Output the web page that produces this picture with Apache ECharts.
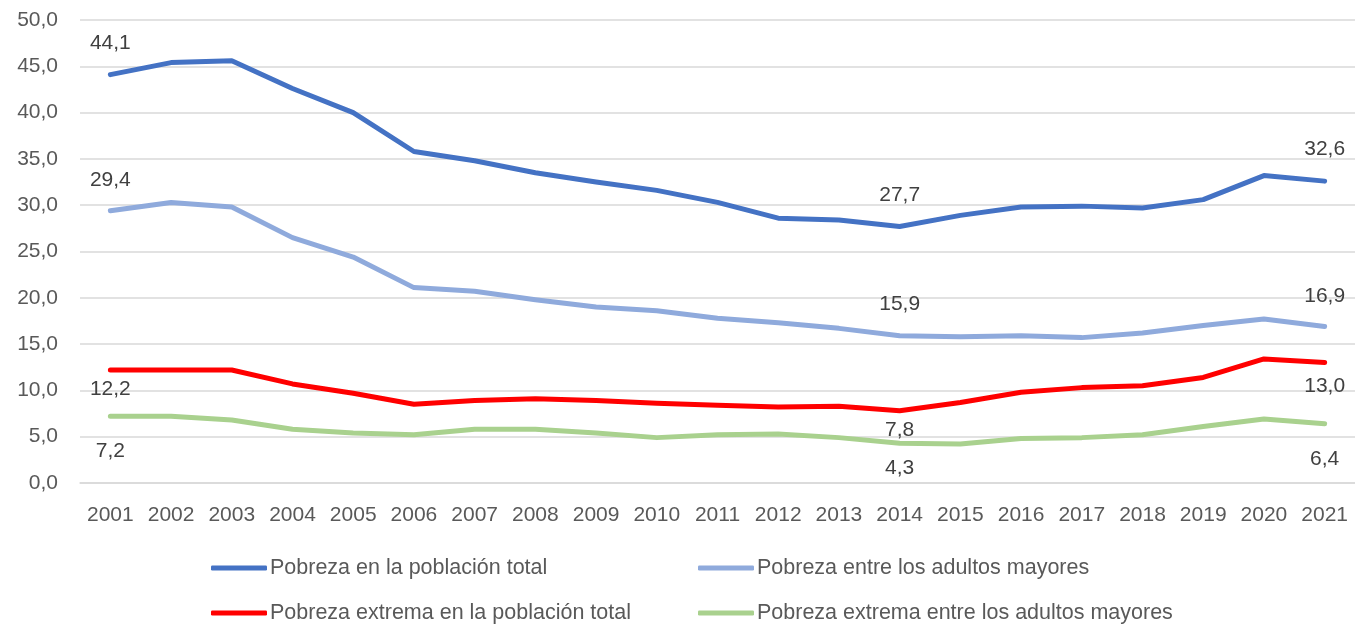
<!DOCTYPE html>
<html>
<head>
<meta charset="utf-8">
<script src="https://cdn.jsdelivr.net/npm/echarts@6/dist/echarts.min.js"></script>
<style>
  html, body { margin: 0; padding: 0; background: #fff; }
  #main { width: 1355px; height: 625px; }
</style>
</head>
<body>
<div id="main"></div>
<script>
var years = ['2001', '2002', '2003', '2004', '2005', '2006', '2007', '2008', '2009', '2010', '2011',
  '2012', '2013', '2014', '2015', '2016', '2017', '2018', '2019', '2020', '2021'];

var seriesNames = [
  'Pobreza en la población total',
  'Pobreza entre los adultos mayores',
  'Pobreza extrema en la población total',
  'Pobreza extrema entre los adultos mayores'
];

var pobrezaTotal = [44.1, 45.4, 45.6, 42.6, 40.0, 35.8, 34.8, 33.5, 32.5, 31.6, 30.3,
  28.6, 28.4, 27.7, 28.9, 29.8, 29.9, 29.7, 30.6, 33.2, 32.6];
var pobrezaMayores = [29.4, 30.3, 29.8, 26.5, 24.4, 21.1, 20.7, 19.8, 19.0, 18.6, 17.8,
  17.3, 16.7, 15.9, 15.8, 15.9, 15.7, 16.2, 17.0, 17.7, 16.9];
var extremaTotal = [12.2, 12.2, 12.2, 10.7, 9.7, 8.5, 8.9, 9.1, 8.9, 8.6, 8.4,
  8.2, 8.3, 7.8, 8.7, 9.8, 10.3, 10.5, 11.4, 13.4, 13.0];
var extremaMayores = [7.2, 7.2, 6.8, 5.8, 5.4, 5.2, 5.8, 5.8, 5.4, 4.9, 5.2,
  5.3, 4.9, 4.3, 4.2, 4.8, 4.9, 5.2, 6.1, 6.9, 6.4];

// points that carry a value label
var labeledIdx = [0, 13, 20];

var fmt = function (v) { return v.toFixed(1).replace('.', ','); };
var font = '"Liberation Sans", Arial, sans-serif';

function makeData(values, position, distances) {
  return values.map(function (v, i) {
    var k = labeledIdx.indexOf(i);
    if (k < 0) return v;
    return {
      value: v,
      label: {
        show: true,
        position: position,
        distance: distances[k],
        formatter: function (p) { return fmt(p.value); },
        color: '#404040',
        fontSize: 21,
        fontFamily: font
      }
    };
  });
}

function lineSeries(name, values, color, position, distances) {
  return {
    name: name,
    type: 'line',
    data: makeData(values, position, distances),
    symbol: 'circle',
    symbolSize: 0.1,
    showSymbol: true,
    lineStyle: { color: color, width: 5, cap: 'round', join: 'round' },
    itemStyle: { color: color },
    label: { show: false },
    emphasis: { disabled: true },
    animation: false
  };
}

var legendBase = {
  orient: 'vertical',
  top: 557,
  height: 68,
  padding: 0,
  icon: 'roundRect',
  itemWidth: 56,
  itemHeight: 5,
  itemGap: 23,
  textStyle: { color: '#595959', fontSize: 21.5, fontFamily: font, lineHeight: 22, padding: [0, 0, 0, -2] }
};

var myChart = echarts.init(document.getElementById('main'));
var option = {
  backgroundColor: '#ffffff',
  grid: { left: 80, right: 0, top: 20, bottom: 142 },
  xAxis: {
    type: 'category',
    data: years,
    boundaryGap: true,
    axisLine: { show: true, lineStyle: { color: '#D9D9D9', width: 1.5 } },
    axisTick: { show: false },
    axisLabel: { interval: 0, color: '#595959', fontSize: 21, fontFamily: font, margin: 22 }
  },
  yAxis: {
    type: 'value',
    min: 0,
    max: 50,
    interval: 5,
    axisLine: { show: false },
    axisTick: { show: false },
    splitLine: { lineStyle: { color: '#D9D9D9', width: 1.5 } },
    axisLabel: {
      color: '#595959', fontSize: 21, fontFamily: font, margin: 22,
      formatter: function (v) { return fmt(v); }
    }
  },
  legend: [
    Object.assign({}, legendBase, { data: [seriesNames[0], seriesNames[2]], left: 211 }),
    Object.assign({}, legendBase, { data: [seriesNames[1], seriesNames[3]], left: 698 })
  ],
  series: [
    lineSeries(seriesNames[0], pobrezaTotal, '#4472C4', 'top', [21, 21, 21]),
    lineSeries(seriesNames[1], pobrezaMayores, '#8FAADC', 'top', [20, 21, 20]),
    lineSeries(seriesNames[2], extremaTotal, '#FF0000', 'bottom', [9, 9, 13]),
    lineSeries(seriesNames[3], extremaMayores, '#A9D18E', 'bottom', [24, 14, 25])
  ]
};
myChart.setOption(option);

window.addEventListener('resize', function () {
  myChart.resize();
});
</script>
</body>
</html>
